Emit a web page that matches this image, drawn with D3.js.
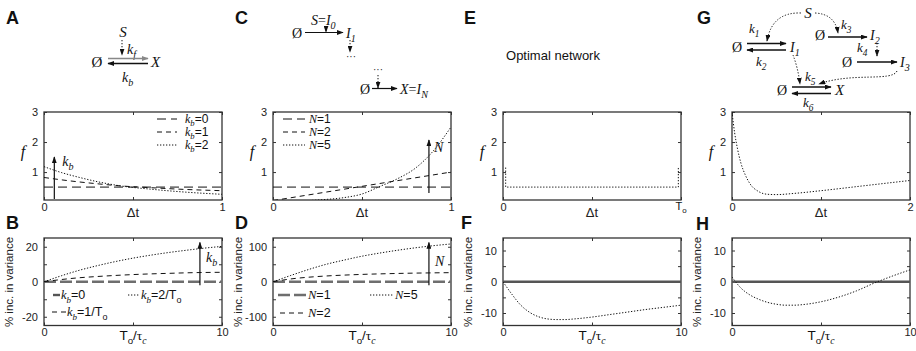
<!DOCTYPE html>
<html>
<head>
<meta charset="utf-8">
<title>Optimal network figure</title>
<script src="https://cdn.jsdelivr.net/npm/d3@7"></script>
<style>body{margin:0;background:#fff} svg{display:block}</style>
</head>
<body>
<svg id="fig" width="916" height="351"></svg>
<script>
// ---- data ----
// panel A: f vs dt for kb = 0,1,2
var fA_kb0 = [[0, 0.5], [1, 0.5]];
var fA_kb1 = [[0, 0.82], [0.1, 0.74], [0.2, 0.67], [0.3, 0.61], [0.43, 0.54], [0.6, 0.48], [0.8, 0.42], [1, 0.38]];
var fA_kb2 = [[0, 1.18], [0.1, 0.98], [0.2, 0.82], [0.3, 0.68], [0.43, 0.54], [0.6, 0.43], [0.8, 0.33], [1, 0.26]];
// panel B: % increase in variance vs To/tc
var vB_kb0 = [[0, 0], [10, 0]];
var vB_kb1 = [[0, 0], [1, 1.3], [2, 2.3], [3, 3], [4, 3.6], [5, 4.1], [6, 4.5], [7, 4.8], [8, 5.1], [9, 5.3], [10, 5.4]];
var vB_kb2 = [[0, 0], [1, 3.5], [2, 6.6], [3, 9.2], [4, 11.5], [5, 13.5], [6, 15.2], [7, 16.7], [8, 18], [9, 19.2], [10, 20.2]];
// panel C
var fC_N1 = [[0, 0.5], [1, 0.5]];
var fC_N2 = [[0, 0.05], [1, 1.0]];
var fC_N5 = [[0, 0], [0.1, 0.01], [0.2, 0.05], [0.3, 0.09], [0.4, 0.15], [0.5, 0.27], [0.6, 0.52], [0.7, 0.78], [0.8, 1.13], [0.9, 1.7], [1, 2.5]];
// panel D
var vD_N1 = [[0, 0], [10, 0]];
var vD_N2 = [[0, 0], [1, 8], [2, 13], [3, 16.5], [4, 19], [5, 21], [6, 22.5], [7, 23.7], [8, 24.7], [9, 25.4], [10, 26]];
var vD_N5 = [[0, 0], [1, 18], [2, 35], [3, 50], [4, 62], [5, 73], [6, 82], [7, 90], [8, 97], [9, 103], [10, 108]];
// panel E (x in units of To)
var fE = [[0.015, 1.15], [0.015, 0.5], [0.985, 0.5], [0.985, 1.15]];
// panel F
var vF_ref = [[0, 0], [10, 0]];
var vF = [[0, 0], [0.5, -4], [1, -7.5], [1.5, -9.8], [2, -11.2], [2.5, -11.9], [3, -12.1], [3.5, -12.1], [4, -11.9], [5, -11.3], [6, -10.5], [7, -9.7], [8, -8.9], [9, -8.2], [10, -7.5]];
// panel G
var fG = [[0, 3], [0.03, 2.3], [0.06, 1.8], [0.1, 1.3], [0.15, 0.9], [0.2, 0.62], [0.3, 0.35], [0.4, 0.26], [0.5, 0.25], [0.7, 0.29], [1, 0.38], [1.5, 0.55], [2, 0.72]];
// panel H
var vH_ref = [[0, 0], [10, 0]];
var vH = [[0, 1.5], [0.5, -2], [1, -4.2], [1.5, -5.6], [2, -6.6], [2.5, -7.2], [3, -7.5], [3.5, -7.5], [4, -7.3], [5, -6.4], [6, -4.9], [7, -2.9], [8, -0.4], [9, 1.8], [10, 3.8]];

// ticks
var topYTicks = [1, 2, 3];
var xTicks01 = [0, 0.5, 1], xLab01 = ["0", "", "1"];
var xTicks02 = [0, 1, 2], xLab02 = ["0", "", "2"];
var xTicks10 = [0, 5, 10], xLab10 = ["0", "", "10"];
var yTicksB = [-20, -10, 0, 10, 20], yLabB = ["-20", "", "0", "", "20"];
var yTicksD = [-100, -50, 0, 50, 100], yLabD = ["-100", "", "0", "", "100"];
var yTicksF = [-10, -5, 0, 5, 10], yLabF = ["-10", "", "0", "", "10"];

// ---- layout ----
var SANS = "'Liberation Sans', Arial, sans-serif";
var SERIF = "'Liberation Serif', 'Times New Roman', serif";
var PX = [44, 273, 503, 732], PW = 178;
var TOP = [200, 112], BOT = [325.5, 238];
var svg = d3.select("#fig");
var defs = svg.append("defs");

function marker(id, col) {
  defs.append("marker").attr("id", id).attr("viewBox", "0 0 10 10")
    .attr("refX", 9).attr("refY", 5).attr("markerWidth", 7).attr("markerHeight", 5)
    .attr("markerUnits", "userSpaceOnUse").attr("orient", "auto")
    .attr("preserveAspectRatio", "none")
    .append("path").attr("d", "M0,0L10,5L0,10z").attr("fill", col);
}
marker("ah", "#111");
marker("ahg", "#888");

// text with italic / subscript pieces: "i:k" italic serif, "is:b" italic sub, "r:" roman serif, ":" sans, "s:" sans sub
function rich(g, x, y, spec, size, anchor) {
  var t = g.append("text").attr("x", x).attr("y", y).attr("font-size", size)
    .attr("text-anchor", anchor || "start").attr("fill", "#111");
  var cur = 0;
  spec.forEach(function (s) {
    var k = s.indexOf(":"), f = s.slice(0, k), str = s.slice(k + 1);
    var sub = f.indexOf("s") >= 0, it = f.indexOf("i") >= 0, rom = f.indexOf("r") >= 0;
    var sp = t.append("tspan").text(str);
    var off = sub ? size * 0.3 : 0;
    if (off !== cur) { sp.attr("dy", off - cur); cur = off; }
    if (sub) sp.attr("font-size", size * 0.72);
    sp.attr("font-family", (it || rom) ? SERIF : SANS);
    if (it) sp.attr("font-style", "italic");
  });
  return t;
}

var clipN = 0;
function axes(px, yr, xd, yd, xt, xl, yt, yl) {
  var x = d3.scaleLinear().domain(xd).range([px, px + PW]);
  var y = d3.scaleLinear().domain(yd).range(yr);
  var g = svg.append("g");
  var id = "clip" + (clipN++);
  defs.append("clipPath").attr("id", id).append("rect")
    .attr("x", px).attr("y", yr[1]).attr("width", PW).attr("height", yr[0] - yr[1]);
  var fmt = function (arr, ticks) { return function (d) { return arr[ticks.indexOf(d)]; }; };
  var mk = function (ax, tr) {
    var a = g.append("g").attr("transform", tr).call(ax);
    a.select(".domain").remove();
    a.selectAll("line").attr("stroke", "#333");
    a.selectAll("text").attr("font-family", SANS).attr("font-size", 11).attr("fill", "#222");
    return a;
  };
  mk(d3.axisBottom(x).tickValues(xt).tickSize(-3).tickPadding(3).tickFormat(fmt(xl, xt)), "translate(0," + yr[0] + ")");
  mk(d3.axisTop(x).tickValues(xt).tickSize(-3).tickFormat(""), "translate(0," + yr[1] + ")");
  mk(d3.axisLeft(y).tickValues(yt).tickSize(-3).tickPadding(6).tickFormat(fmt(yl, yt)), "translate(" + px + ",0)");
  mk(d3.axisRight(y).tickValues(yt).tickSize(-3).tickFormat(""), "translate(" + (px + PW) + ",0)");
  g.append("rect").attr("x", px).attr("y", yr[1]).attr("width", PW).attr("height", yr[0] - yr[1])
    .attr("fill", "none").attr("stroke", "#333").attr("stroke-width", 1.3);
  var plot = g.append("g").attr("clip-path", "url(#" + id + ")");
  return { x: x, y: y, g: g, plot: plot };
}

var STY = {
  long: { dash: "9,5", w: 1, c: "#111" },
  med: { dash: "5,4", w: 1, c: "#111" },
  dot: { dash: "1.3,1.7", w: 1, c: "#111" },
  gray: { dash: "12,4", w: 2.6, c: "#6e6e6e" },
  grays: { dash: null, w: 2.4, c: "#555" }
};
function curve(a, data, st, cv) {
  var line = d3.line().x(function (d) { return a.x(d[0]); }).y(function (d) { return a.y(d[1]); })
    .curve(cv || d3.curveMonotoneX);
  a.plot.append("path").datum(data).attr("d", line).attr("fill", "none")
    .attr("stroke", st.c).attr("stroke-width", st.w).attr("stroke-dasharray", st.dash);
}
function sample(x1, x2, y, st) {
  svg.append("line").attr("x1", x1).attr("x2", x2).attr("y1", y).attr("y2", y)
    .attr("stroke", st.c).attr("stroke-width", st.w).attr("stroke-dasharray", st.dash);
}
function arrow(x1, y1, x2, y2, opt) {
  opt = opt || {};
  svg.append("line").attr("x1", x1).attr("y1", y1).attr("x2", x2).attr("y2", y2)
    .attr("stroke", opt.c || "#111").attr("stroke-width", opt.w || 1.2)
    .attr("stroke-dasharray", opt.dash || null)
    .attr("marker-end", "url(#" + (opt.m || "ah") + ")");
}
function carrow(d) {
  svg.append("path").attr("d", d).attr("fill", "none").attr("stroke", "#111")
    .attr("stroke-width", 1).attr("stroke-dasharray", "1.3,1.7").attr("marker-end", "url(#ah)");
}
function ylabTop(px) { rich(svg, px - 21, 157, ["i:f"], 16, "middle"); }
function ylabBot(px) {
  svg.append("text").attr("transform", "translate(" + (px - 31) + ",282) rotate(-90)")
    .attr("text-anchor", "middle").attr("font-family", SANS).attr("font-size", 11.5)
    .attr("fill", "#222").text("% inc. in variance");
}
function xlabTop(px) {
  svg.append("text").attr("x", px + PW / 2).attr("y", 217).attr("text-anchor", "middle")
    .attr("font-family", SANS).attr("font-size", 13).attr("fill", "#222").text("\u0394t");
}
function xlabBot(px) { rich(svg, px + PW / 2, 340, [":T", "s:o", ":/", "r:\u03c4", "is:c"], 13.5, "middle"); }
function panelLetter(x, y, s) {
  svg.append("text").attr("x", x).attr("y", y).attr("font-family", SANS).attr("font-weight", "bold")
    .attr("font-size", 18).attr("fill", "#111").text(s);
}

// ---- panel A ----
var a = axes(PX[0], TOP, [0, 1], [0.07, 3], xTicks01, xLab01, topYTicks, ["1", "2", "3"]);
curve(a, fA_kb0, STY.long);
curve(a, fA_kb1, STY.med);
curve(a, fA_kb2, STY.dot);
arrow(a.x(0.058), a.y(0.1), a.x(0.058), a.y(1.5));
rich(svg, a.x(0.058) + 8, 166, ["i:k", "is:b"], 14);
[["kb=0", STY.long, "0"], ["kb=1", STY.med, "1"], ["kb=2", STY.dot, "2"]].forEach(function (r, i) {
  sample(PX[0] + 113, PX[0] + 133, 119 + 13 * i, r[1]);
  rich(svg, PX[0] + 141, 122.5 + 13 * i, ["i:k", "is:b", ":=" + r[2]], 12);
});
ylabTop(PX[0]); xlabTop(PX[0]);

// ---- panel B ----
var b = axes(PX[0], BOT, [0, 10], [-25, 25], xTicks10, xLab10, yTicksB, yLabB);
curve(b, vB_kb0, STY.gray);
curve(b, vB_kb1, STY.med);
curve(b, vB_kb2, STY.dot);
arrow(b.x(8.76), b.y(-2), b.x(8.76), b.y(22.5));
rich(svg, b.x(8.76) + 6, 262, ["i:k", "is:b"], 14);
sample(PX[0] + 9, PX[0] + 16, 295, STY.grays);
rich(svg, PX[0] + 17, 299, ["i:k", "is:b", ":=0"], 12.5);
sample(PX[0] + 84, PX[0] + 96, 295, STY.dot);
rich(svg, PX[0] + 97, 299, ["i:k", "is:b", ":=2/T", "s:o"], 12.5);
sample(PX[0] + 8, PX[0] + 22, 312, STY.med);
rich(svg, PX[0] + 23, 316, ["i:k", "is:b", ":=1/T", "s:o"], 12.5);
ylabBot(PX[0]); xlabBot(PX[0]);

// ---- panel C ----
var c = axes(PX[1], TOP, [0, 1], [0.07, 3], xTicks01, xLab01, topYTicks, ["1", "2", "3"]);
curve(c, fC_N1, STY.long);
curve(c, fC_N2, STY.med, d3.curveLinear);
curve(c, fC_N5, STY.dot);
arrow(c.x(0.876), c.y(0.3), c.x(0.876), c.y(2.07));
rich(svg, c.x(0.876) + 5, 152, ["i:N"], 14);
[[STY.long, "1"], [STY.med, "2"], [STY.dot, "5"]].forEach(function (r, i) {
  sample(PX[1] + 10, PX[1] + 32, 119 + 13 * i, r[0]);
  rich(svg, PX[1] + 36, 122.5 + 13 * i, ["i:N", ":=" + r[1]], 12);
});
ylabTop(PX[1]); xlabTop(PX[1]);

// ---- panel D ----
var dd = axes(PX[1], BOT, [0, 10], [-125, 125], xTicks10, xLab10, yTicksD, yLabD);
curve(dd, vD_N1, STY.gray);
curve(dd, vD_N2, STY.med);
curve(dd, vD_N5, STY.dot);
arrow(dd.x(8.76), dd.y(-10), dd.x(8.76), dd.y(112));
rich(svg, dd.x(8.76) + 6, 266, ["i:N"], 14);
sample(PX[1] + 5, PX[1] + 33, 295, STY.gray);
rich(svg, PX[1] + 35, 299, ["i:N", ":=1"], 12.5);
sample(PX[1] + 97, PX[1] + 120, 295, STY.dot);
rich(svg, PX[1] + 122, 299, ["i:N", ":=5"], 12.5);
sample(PX[1] + 7, PX[1] + 31, 313, STY.med);
rich(svg, PX[1] + 35, 317, ["i:N", ":=2"], 12.5);
ylabBot(PX[1]); xlabBot(PX[1]);

// ---- panel E ----
var e = axes(PX[2], TOP, [0, 1], [0.07, 3], xTicks01, ["0", "", ""], topYTicks, ["1", "2", "3"]);
curve(e, fE, STY.dot, d3.curveLinear);
rich(svg, PX[2] + PW, 210, [":T", "s:o"], 11, "middle");
ylabTop(PX[2]); xlabTop(PX[2]);
svg.append("text").attr("x", 553).attr("y", 60).attr("text-anchor", "middle")
  .attr("font-family", SANS).attr("font-size", 13).attr("fill", "#111").text("Optimal network");

// ---- panel F ----
var f = axes(PX[2], BOT, [0, 10], [-14, 14], xTicks10, xLab10, yTicksF, yLabF);
curve(f, vF_ref, STY.grays);
curve(f, vF, STY.dot);
ylabBot(PX[2]); xlabBot(PX[2]);

// ---- panel G ----
var gg = axes(PX[3], TOP, [0, 2], [0.07, 3], xTicks02, xLab02, topYTicks, ["1", "2", "3"]);
curve(gg, fG, STY.dot);
ylabTop(PX[3]); xlabTop(PX[3]);

// ---- panel H ----
var h = axes(PX[3], BOT, [0, 10], [-14, 14], xTicks10, xLab10, yTicksF, yLabF);
curve(h, vH_ref, STY.grays);
curve(h, vH, STY.dot);
ylabBot(PX[3]); xlabBot(PX[3]);

// ---- letters ----
panelLetter(6, 24, "A"); panelLetter(6, 229, "B");
panelLetter(235, 24, "C"); panelLetter(235, 229, "D");
panelLetter(464, 24, "E"); panelLetter(461, 229, "F");
panelLetter(697, 24, "G"); panelLetter(696, 230, "H");

// ---- network diagrams ----
// A
rich(svg, 123, 37, ["i:S"], 15, "middle");
arrow(122, 40, 122, 55, { dash: "1.3,1.7", w: 1 });
rich(svg, 127, 54, ["i:k", "is:f"], 14);
rich(svg, 97, 67, ["r:\u00d8"], 15, "middle");
arrow(108, 58.5, 148, 58.5, { c: "#888", m: "ahg", w: 1.5 });
arrow(148, 63.5, 108, 63.5, { w: 1.5 });
rich(svg, 151, 67, ["i:X"], 15);
rich(svg, 122, 82, ["i:k", "is:b"], 14);

// C
rich(svg, 311, 25, ["i:S", "r:=", "i:I", "is:0"], 14);
arrow(326, 27, 326, 32, { dash: "1.3,1.7", w: 1 });
rich(svg, 297, 38, ["r:\u00d8"], 14, "middle");
arrow(305, 32.5, 343, 32.5, { w: 1.2 });
rich(svg, 346, 38, ["i:I", "is:1"], 14);
arrow(350, 40, 350, 52, { dash: "1.3,1.7", w: 1 });
rich(svg, 351, 60, ["r:\u00b7\u00b7\u00b7"], 10, "middle");
rich(svg, 378, 73, ["r:\u00b7\u00b7\u00b7"], 10, "middle");
arrow(378, 75, 378, 88, { dash: "1.3,1.7", w: 1 });
rich(svg, 365, 94, ["r:\u00d8"], 14, "middle");
arrow(372, 88.5, 397, 88.5, { w: 1.2 });
rich(svg, 400, 94, ["i:X", "r:=", "i:I", "is:N"], 14);

// G
rich(svg, 808, 18, ["i:S"], 15, "middle");
carrow("M801,13 Q772,12 767,41");
carrow("M815,13 Q835,14 838,33");
rich(svg, 749, 33, ["i:k", "is:1"], 13);
rich(svg, 737, 52, ["r:\u00d8"], 14, "middle");
arrow(747, 43.5, 786, 43.5, { w: 1.3 });
arrow(786, 50, 747, 50, { w: 1.3 });
rich(svg, 790, 52, ["i:I", "is:1"], 14);
rich(svg, 756, 66, ["i:k", "is:2"], 13);
rich(svg, 820, 40, ["r:\u00d8"], 14, "middle");
arrow(828, 37, 867, 37, { w: 1.3 });
rich(svg, 841, 29, ["i:k", "is:3"], 13);
rich(svg, 870, 40, ["i:I", "is:2"], 14);
arrow(877, 43, 877, 56, { dash: "1.3,1.7", w: 1 });
rich(svg, 857, 52, ["i:k", "is:4"], 13);
rich(svg, 847, 67, ["r:\u00d8"], 14, "middle");
arrow(857, 62, 897, 62, { w: 1.3 });
rich(svg, 900, 67, ["i:I", "is:3"], 14);
carrow("M793,55 Q798,68 800,84");
carrow("M897,71 C892,82 852,72 819,84");
rich(svg, 805, 81, ["i:k", "is:5"], 13);
rich(svg, 782, 95, ["r:\u00d8"], 14, "middle");
arrow(792, 87, 831, 87, { w: 1.3 });
arrow(831, 93.5, 792, 93.5, { w: 1.3 });
rich(svg, 835, 95, ["i:X"], 15);
rich(svg, 803, 107, ["i:k", "is:6"], 13);
</script>
</body>
</html>
